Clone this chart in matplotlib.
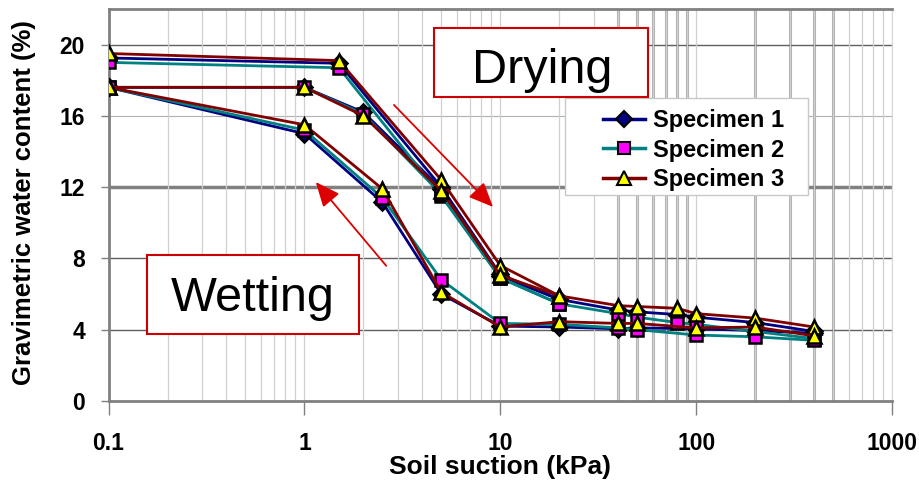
import matplotlib
matplotlib.use("Agg")
import matplotlib.pyplot as plt
from matplotlib.patches import Rectangle
from matplotlib.lines import Line2D

plt.rcParams['font.family'] = ['Liberation Sans', 'DejaVu Sans']

# suction values (kPa)
dry1_x = [0.1, 1.5, 5, 10, 20, 40, 50, 80, 100, 200, 400]
dry2_x = [0.1, 1, 2, 5, 10, 20]
wet_x = [400, 200, 100, 50, 40, 20, 10, 5, 2.5, 1, 0.1]

# gravimetric water content (%)
s1_dry1 = [19.25, 18.95, 12.0, 7.1, 5.7, 5.1, 5.0, 4.85, 4.7, 4.4, 3.9]
s2_dry1 = [19.0, 18.7, 11.5, 6.9, 5.45, 4.9, 4.7, 4.4, 4.3, 3.9, 3.5]
s3_dry1 = [19.5, 19.1, 12.4, 7.6, 5.9, 5.35, 5.3, 5.2, 4.9, 4.65, 4.15]

s1_dry2 = [17.6, 17.6, 16.2, 11.9, 7.0, 5.7]
s2_dry2 = [17.6, 17.6, 16.1, 11.6, 6.9, 5.45]
s3_dry2 = [17.6, 17.6, 16.0, 11.8, 7.05, 5.9]

s1_wet = [3.8, 3.95, 4.05, 4.1, 4.05, 4.15, 4.2, 6.0, 11.15, 15.0, 17.6]
s2_wet = [3.4, 3.6, 3.7, 4.0, 4.1, 4.3, 4.35, 6.8, 11.4, 15.2, 17.6]
s3_wet = [3.65, 4.15, 4.1, 4.35, 4.35, 4.45, 4.15, 6.1, 11.9, 15.5, 17.6]

labels = ['Specimen 1', 'Specimen 2', 'Specimen 3']
line_cols = ['#000080', '#008080', '#800000']
face_cols = ['#000080', '#ff00ff', '#ffff00']
markers = ['D', 's', '^']
msizes = [8, 9, 10]

fig = plt.figure(figsize=(9.2, 4.86), dpi=100)
ax = fig.add_axes([0.118, 0.175, 0.8516, 0.8066])
ax.set_xscale('log')
ax.set_xlim(0.1, 1000)
ax.set_ylim(0, 22)

# grid
ax.grid(True, which='minor', axis='x', color='#d0d0d0', lw=0.9)
ax.grid(True, which='major', axis='x', color='#d0d0d0', lw=0.9)
for v in [40, 50, 60, 70, 80, 90, 200, 300, 400, 500]:
    ax.axvline(v, color='#b0b0b0', lw=2.2, zorder=0.5)
for v, c, w in [(4, '#606060', 1.0), (8, '#606060', 1.0), (12, '#808080', 2.5),
                (16, '#b0b0b0', 0.8), (20, '#606060', 1.0)]:
    ax.axhline(v, color=c, lw=w, zorder=0.6)

series = [(s1_dry1, s1_dry2, s1_wet), (s2_dry1, s2_dry2, s2_wet), (s3_dry1, s3_dry2, s3_wet)]
for i, (d1, d2, w) in enumerate(series):
    kw = dict(color=line_cols[i], lw=2, marker=markers[i], ms=msizes[i],
              mfc=face_cols[i], mec='black', mew=1.8, zorder=3 + i)
    ax.plot(dry1_x, d1, **kw)
    ax.plot(dry2_x, d2, **kw)
    ax.plot(wet_x, w, **kw)

ax.set_yticks([0, 4, 8, 12, 16, 20])
ax.set_xticks([0.1, 1, 10, 100, 1000])
ax.set_xticklabels(['0.1', '1', '10', '100', '1000'])
ax.tick_params(axis='both', which='major', labelsize=16.5, colors='#808080', labelcolor='black')
ax.tick_params(axis='x', which='major', length=10, width=1, pad=12)
ax.tick_params(axis='y', which='major', length=6, width=1, pad=11)
ax.tick_params(axis='x', which='minor', length=0)
for t in ax.get_xticklabels() + ax.get_yticklabels():
    t.set_fontweight('bold')

for s in ['left', 'bottom', 'top']:
    ax.spines[s].set_color('#808080')
    ax.spines[s].set_linewidth(2)
ax.spines['right'].set_color('#d8d8d8')

ax.set_xlabel('Soil suction (kPa)', fontsize=19, fontweight='bold', labelpad=0)
ax.set_ylabel('Gravimetric water content (%)', fontsize=18.5, fontweight='bold')
ax.yaxis.set_label_coords(-0.092, 0.505)

# legend: frame drawn separately for its uneven padding
ax.add_patch(Rectangle((0.5826, 0.5255), 0.3102, 0.2475, transform=ax.transAxes,
                       facecolor='white', edgecolor='#c8c8c8', lw=1, zorder=9))
handles = [Line2D([], [], color=line_cols[i], lw=2.5, marker=markers[i], ms=msizes[i],
                  mfc=face_cols[i], mec='black', mew=1.5) for i in range(3)]
leg = ax.legend(handles, labels, loc='upper left', bbox_to_anchor=(0.631, 0.744),
                prop={'size': 17, 'weight': 'bold'}, frameon=False,
                handlelength=1.8, borderpad=0, labelspacing=0.27, handletextpad=0.3,
                borderaxespad=0)
leg.set_zorder(10)

# annotation boxes
ax.add_patch(Rectangle((0.4154, 0.7755), 0.2731, 0.176, transform=ax.transAxes,
                       facecolor='white', edgecolor='#cc0000', lw=1.5, zorder=11))
ax.text(0.553, 0.843, 'Drying', transform=ax.transAxes, fontsize=35,
        ha='center', va='center', zorder=12)
ax.add_patch(Rectangle((0.049, 0.171), 0.2706, 0.2014, transform=ax.transAxes,
                       facecolor='white', edgecolor='#cc0000', lw=1.5, zorder=11))
ax.text(0.1843, 0.262, 'Wetting', transform=ax.transAxes, fontsize=35,
        ha='center', va='center', zorder=12)

arrow = dict(arrowstyle='-|>,head_length=1.5,head_width=0.65', color='#dd0000', lw=1.3)
ax.annotate('', xy=(0.4932, 0.4898), xytext=(0.3618, 0.7602),
            xycoords='axes fraction', textcoords='axes fraction', arrowprops=arrow, zorder=12)
ax.annotate('', xy=(0.2622, 0.5638), xytext=(0.3567, 0.3393),
            xycoords='axes fraction', textcoords='axes fraction', arrowprops=arrow, zorder=12)

fig.savefig('out.png', dpi=100)
